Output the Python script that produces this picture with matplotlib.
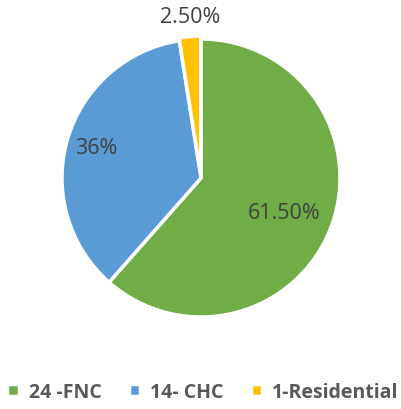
import matplotlib
matplotlib.use("Agg")
import matplotlib.pyplot as plt

categories = ["24 -FNC", "14- CHC", "1-Residential"]
values = [61.5, 36.0, 2.5]
labels = ["61.50%", "36%", "2.50%"]
colors = ["#70AD47", "#5B9BD5", "#FFC000"]

W, H = 402, 410
fig = plt.figure(figsize=(W / 100, H / 100), dpi=100)
cx, cy, r = 201, 231, 139
ax = fig.add_axes([(cx - r) / W, (cy - r) / H, 2 * r / W, 2 * r / H])
wedges, _ = ax.pie(values, colors=colors, startangle=90, counterclock=False,
                   explode=[0, 0, 0.02],
                   wedgeprops=dict(edgecolor="white", linewidth=2.5))
ax.set_xlim(-1, 1)
ax.set_ylim(-1, 1)
ax.set_aspect("equal")
ax.axis("off")

label_pos = [(0.60, -0.245), (-0.75, 0.22), (-0.08, 1.16)]
for (x, y), t in zip(label_pos, labels):
    ax.text(x, y, t, ha="center", va="center", fontsize=15.5,
            color="#404040", family="Open Sans", clip_on=False)

leg = fig.legend(wedges, categories, loc="center", bbox_to_anchor=(0.505, 17 / H),
                 ncol=3, frameon=False, handlelength=0.6, handleheight=0.6,
                 handletextpad=0.5, columnspacing=1.4,
                 prop=dict(family="Open Sans", weight="bold", size=14))
for t in leg.get_texts():
    t.set_color("#595959")

fig.savefig("out.png", dpi=100)
